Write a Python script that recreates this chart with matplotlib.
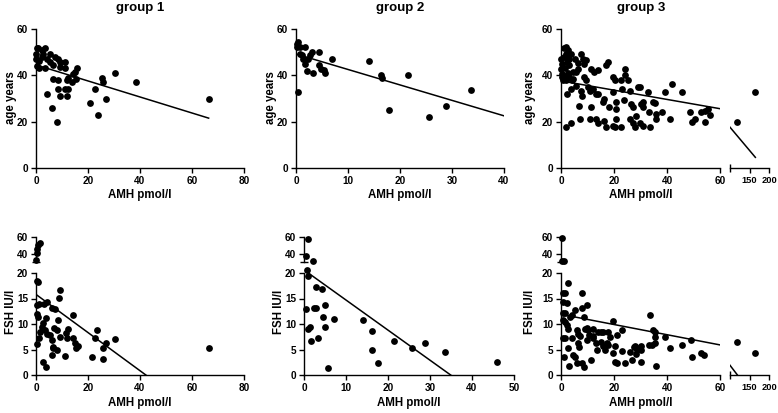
import numpy as np
import matplotlib
matplotlib.use('Agg')
import matplotlib.pyplot as plt

plt.rcParams['font.family'] = ['Liberation Sans', 'DejaVu Sans']
plt.rcParams['font.weight'] = 'bold'

# ---------------- data ----------------
titles = ["group 1", "group 2", "group 3"]
xlabel = "AMH pmol/l"
ylabel_top = "age years"
ylabel_bot = "FSH IU/l"

g1_amh = [0, 0, 0.2, 0.9, 2.2, 2.8, 3.5, 1.3, 0.3, 1.3, 3.5, 2.2, 4.1, 5.4, 5.4, 6.7, 7.3, 8.6, 9.2, 9.2,
          11.1, 11.1, 12.4, 14.3, 15.0, 15.6, 15.4, 13.7, 11.8, 11.1, 12.4, 11.8, 9.2, 8.6, 8.6, 6.7, 4.1,
          6.0, 7.9, 20.7, 22.7, 23.7, 25.2, 25.9, 27.1, 30.3, 38.4, 66.4]
g1_age = [47, 49, 51.6, 52, 51, 49, 51.6, 46, 44, 43, 43, 48, 47, 49, 45.8, 44.3, 48, 47, 45.8, 43.5,
          45.8, 43, 39, 40.7, 41.4, 43, 38.5, 37, 37.8, 34, 34, 31, 31, 34, 37.8, 38.5, 32,
          26, 20, 28, 34, 23, 39, 37, 30, 41, 37, 30]

g2_amh = [0.1, 0.4, 0.1, 0.8, 0.4, 0.8, 1.1, 1.7, 1.4, 1.7, 2.1, 2.4, 2.7, 3.0, 3.3, 4.5, 4.5, 4.9, 5.3,
          5.6, 7.0, 14.1, 16.3, 16.5, 17.8, 21.5, 25.6, 28.8, 33.7]
g2_age = [53.7, 54.5, 52.3, 52.3, 33, 49.4, 48.7, 52.3, 47.2, 45, 41.8, 47.2, 48.7, 50, 41, 50, 44.3,
          42.9, 42.1, 41, 47.2, 46, 40, 39, 25, 40, 21.8, 26.9, 33.8]

g3_amh = [0, 0, 0.3, 1, 1.9, 2.5, 1.3, 2.3, 3.2, 0.6, 1.9, 3.2, 4.4, 3.8, 5.1, 5.7, 6.3, 7.6, 8.2, 8.8,
          9.5, 8.8, 9.5, 11.4, 12.6, 13.9, 17, 17.7, 3.8, 2.3, 5.7, 7.6, 8.0, 6.7, 7, 3.8, 1.9, 11.1,
          11.4, 11.1, 13.3, 13.9, 13.3, 13.8, 15.8, 16.4, 16.2, 17, 18.3, 19.6, 19.6, 20.2, 19.6, 20.8,
          20.8, 20.8, 20.2, 22.7, 23, 23.7, 22.7, 24, 24, 25.3, 25.9, 25.9, 26.5, 27.1, 27.1, 27.8,
          28.4, 29, 29.7, 30.3, 30.9, 30.9, 30.9, 29.7, 32.8, 33.2, 33.5, 34.7, 35.4, 35.7, 36, 38.3,
          39.1, 41, 41.7, 45.7, 48.6, 49.5, 50.5, 53, 54.3, 54.3, 56.2, 55.3,
          0.5, 1.5, 2.8, 4.5, 0.2, 2, 6.5, 10, 4, 12, 1.2, 3, 118, 165]
g3_age = [47.2, 42.9, 39.2, 51.6, 52.3, 50.9, 48, 45.8, 44.3, 37.8, 37.8, 39.2, 41.4, 49.4, 47.2, 41.4,
          42.9, 49.4, 47.2, 45, 46.5, 39.2, 37.8, 42.9, 41.4, 42.1, 44.3, 45.8, 34.1, 32, 35.6, 33.4,
          31.2, 26.9, 21.1, 19.6, 17.7, 33.4, 26.2, 21.1, 32, 32, 21.1, 19.6, 28.3, 29.8, 20.3, 17.7,
          26.2, 32.7, 39.2, 37.8, 18.2, 28.3, 25.4, 21.1, 17.7, 37.8, 34.1, 29.4, 17.7, 42.9, 40,
          37.8, 33.4, 21.1, 27.6, 26.2, 19.6, 17.7, 22.5, 34.9, 34.9, 27.6, 28.3, 26.2, 18.2, 19.6,
          32.7, 24, 17.7, 28.3, 27.9, 23.2, 21.1, 24, 32.7, 21.1, 36.3, 32.7, 24, 20, 21.1, 24, 24.7,
          20, 23, 25.4,
          45, 43, 41, 38.5, 40.5, 49, 45.5, 35, 38, 34, 39.5, 47, 20, 33]

g1f_amh = [0, 0.2, 0.5, 0.8, 1.6, 0.5, 0.9, 0.3, 0.3, 0.9, 1.3, 0.5, 1.3, 1.5, 2.2, 2.6, 3.1, 4.1, 3.5,
           4.1, 3.8, 2.8, 3.8, 5.4, 6.0, 6.4, 6.0, 6.7, 6.0, 7.3, 6.9, 7.9, 8.2, 8.6, 9.1, 9.2, 9.0,
           11.1, 11.5, 11.8, 12.4, 14.1, 14.3, 15.0, 15.4, 16.0, 21.4, 22.7, 23.6, 25.6, 25.9, 27.1,
           30.3, 66.4]
g1_fsh = [32, 41, 46, 50, 53, 18.4, 18.2, 13.7, 11.9, 11.4, 14, 6.1, 7.2, 8.5, 9.4, 10.1, 14, 14.3, 8.8,
          8, 11.1, 2.6, 1.5, 7.8, 6.8, 5.2, 3.9, 5.5, 13.2, 13, 9.3, 8.8, 4.9, 10.7, 7.4, 16.7, 15.1,
          3.7, 8.3, 7.2, 9.1, 7.2, 11.7, 6.2, 5.2, 5.7, 3.6, 7.2, 8.8, 5.2, 3.1, 6.2, 7, 5.2]

g2f_amh = [1, 0.4, 2.1, 0.6, 1, 0.4, 1, 1.5, 1.7, 2.3, 2.9, 2.8, 3.3, 4.4, 4.5, 5.1, 5.1, 5.6, 7.1, 14.1,
           16.1, 16.3, 17.6, 21.5, 25.6, 28.7, 33.6, 45.9]
g2_fsh = [58, 37, 31, 20.1, 19.5, 12.9, 9, 9.5, 6.6, 13.1, 13.1, 17.3, 7.3, 16.9, 11.4, 13.8, 9.5, 1.3,
          11, 10.8, 8.7, 4.9, 2.4, 6.6, 5.3, 6.2, 4.6, 2.5]

g3f_amh = [0.2, 0.3, 1.3, 2.8, 0.9, 1.5, 0.9, 2.1, 0.6, 1.5, 0.6, 1.5, 2.1, 2.8, 0.9, 1.5, 1.3, 2.8, 3.0,
           3.4, 4.0, 4.3, 4.7, 5.3, 5.9, 5.3, 5.9, 6.3, 6.6, 6.9, 7.2, 7.8, 8.1, 8.5, 9.1, 9.7, 9.7,
           10.1, 8.1, 8.5, 9.7, 10.4, 11.4, 11.9, 11.9, 12.2, 13.1, 13.5, 14.1, 15.2, 15.2, 16.0, 16.0,
           16.7, 17.7, 17.3, 17.9, 18.6, 19.8, 20.2, 19.8, 20.5, 21.1, 21.1, 23.0, 23.0, 24.2, 26.1,
           26.8, 27.4, 28.0, 28.3, 28.7, 29.5, 30.3, 30.0, 30.3, 33.3, 33.7, 34.3, 34.8, 35.4, 35.4,
           35.4, 35.9, 39.4, 41.3, 45.7, 49.1, 49.5, 53.0, 53.9, 118, 165]
g3_fsh = [59, 31, 31, 18, 16.1, 16.1, 14.3, 14.1, 12.2, 12.2, 10.7, 10.4, 9.8, 9.1, 7.2, 7.2, 3.6, 5.2,
          1.8, 11.4, 11.7, 7.2, 3.9, 3.5, 2.3, 12.8, 8.8, 8.1, 6.2, 5.5, 7.6, 13.2, 16.1, 11.3, 9.1,
          13.7, 9.3, 8.8, 2.3, 1.6, 6.8, 7.8, 2.9, 9.1, 7.6, 7.2, 6.3, 4.9, 8.5, 8.5, 6.5, 8.5, 5.7,
          4.9, 8.5, 6.2, 5.9, 7.4, 10.6, 5.7, 4.4, 2.6, 7.8, 2.3, 8.9, 4.8, 2.3, 4.6, 2.9, 5.4, 5.7,
          4.2, 4.9, 5.2, 2.6, 4.9, 5.7, 5.9, 11.7, 5.9, 8.9, 8.5, 7.5, 6.3, 1.8, 7.5, 5.3, 5.9, 6.8,
          3.5, 4.4, 3.9, 6.5, 4.4]

# regression lines (intercept, slope, x range)
fit_top = [(44.5, -0.346, 0, 66.4), (49.2, -0.667, 0.1, 45.9), (37.6, -0.2, 0, 165)]
fit_bot = [(15.8, -0.374, 0, 66.4), (20.6, -0.59, 0.2, 45.9), (11.9, -0.1, 0, 165)]

# ---------------- layout ----------------
W, H = 778, 413
fig = plt.figure(figsize=(W / 100, H / 100), dpi=100)

LW = 1.0
MS = 24


def box(x0, x1, ytop, ybot):
    return [x0 / W, 1 - ybot / H, (x1 - x0) / W, (ybot - ytop) / H]


def style(ax, left=True, bottom=True, lsize=7.2):
    for s in ['top', 'right']:
        ax.spines[s].set_visible(False)
    ax.spines['left'].set_visible(left)
    ax.spines['bottom'].set_visible(bottom)
    for s in ['left', 'bottom']:
        ax.spines[s].set_linewidth(LW)
    ax.tick_params(which='major', width=LW, length=3.5, labelsize=lsize, pad=2, direction='out')
    ax.tick_params(which='minor', width=LW, length=6, direction='inout')
    ax.patch.set_alpha(0)
    if not left:
        ax.tick_params(axis='y', which='both', left=False, labelleft=False)
    if not bottom:
        ax.tick_params(axis='x', which='both', bottom=False, labelbottom=False)


def dots(ax, x, y):
    ax.scatter(x, y, s=MS, c='black', linewidths=0, clip_on=False, zorder=3)


def fitline(ax, fit):
    a, b, x0, x1 = fit
    xs = np.array([x0, x1])
    ax.plot(xs, a + b * xs, color='black', lw=1.1, zorder=2)


# top row geometry
top_y = (29, 168)
xs_top = [(36, 244, 80, [0, 20, 40, 60, 80]), (296, 504, 40, [0, 10, 20, 30, 40])]
top_data = [(g1_amh, g1_age), (g2_amh, g2_age)]

for i in range(2):
    x0, x1, xmax, xt = xs_top[i]
    ax = fig.add_axes(box(x0, x1, *top_y))
    style(ax)
    amh, age = top_data[i]
    dots(ax, amh, age)
    fitline(ax, fit_top[i])
    ax.set_xlim(0, xmax)
    ax.set_ylim(0, 60)
    ax.set_xticks(xt)
    ax.set_yticks([0, 20, 40, 60])

# group 3 top (broken x)
axL = fig.add_axes(box(561, 720, *top_y))
axR = fig.add_axes(box(730, 769, *top_y))
style(axL)
style(axR, left=False, lsize=6.7)
a3 = np.array(g3_amh)
y3 = np.array(g3_age)
m = a3 <= 60
dots(axL, a3[m], y3[m])
dots(axR, a3[~m], y3[~m])
fitline(axL, fit_top[2])
fitline(axR, fit_top[2])
axL.set_xlim(0, 60)
axR.set_xlim(100, 200)
for a in (axL, axR):
    a.set_ylim(0, 60)
axL.set_yticks([0, 20, 40, 60])
axL.set_xticks([0, 20, 40, 60])
axL.set_xticks([60], minor=True)
axR.set_xticks([150, 200])
axR.set_xticks([100], minor=True)

# bottom row geometry
low_y = (273, 375)
up_y = (237, 262)
xs_bot = [(36, 244, 80, [0, 20, 40, 60, 80]), (304, 514, 50, [0, 10, 20, 30, 40, 50])]
bot_data = [(g1f_amh, g1_fsh), (g2f_amh, g2_fsh)]


def make_broken_y(x0, x1, xmax, xt):
    lo = fig.add_axes(box(x0, x1, *low_y))
    up = fig.add_axes(box(x0, x1, *up_y))
    style(lo)
    style(up, bottom=False)
    lo.set_ylim(0, 20)
    up.set_ylim(30, 60)
    lo.set_yticks([0, 5, 10, 15, 20])
    lo.set_yticks([20], minor=True)
    up.set_yticks([40, 60])
    up.set_yticks([30], minor=True)
    lo.set_xlim(0, xmax)
    up.set_xlim(0, xmax)
    lo.set_xticks(xt)
    return lo, up


for i in range(2):
    x0, x1, xmax, xt = xs_bot[i]
    lo, up = make_broken_y(x0, x1, xmax, xt)
    amh = np.array(bot_data[i][0])
    fsh = np.array(bot_data[i][1])
    m = fsh <= 20
    dots(lo, amh[m], fsh[m])
    dots(up, amh[~m], fsh[~m])
    fitline(lo, fit_bot[i])

# group 3 bottom (broken x and y)
lo, up = make_broken_y(561, 720, 60, [0, 20, 40, 60])
lo.set_xticks([60], minor=True)
loR = fig.add_axes(box(730, 769, *low_y))
style(loR, left=False, lsize=6.7)
loR.set_xlim(100, 200)
loR.set_ylim(0, 20)
loR.set_xticks([150, 200])
loR.set_xticks([100], minor=True)
a3 = np.array(g3f_amh)
f3 = np.array(g3_fsh)
mx = a3 <= 60
my = f3 <= 20
dots(lo, a3[mx & my], f3[mx & my])
dots(up, a3[mx & ~my], f3[mx & ~my])
dots(loR, a3[~mx], f3[~mx])
fitline(lo, fit_bot[2])
fitline(loR, fit_bot[2])

# ---------------- text ----------------
centers_top = [140, 400, 641]
for c, t in zip(centers_top, titles):
    fig.text(c / W, 1 - 8 / H, t, ha='center', va='center', fontsize=9.5, fontweight='bold')
for c in centers_top:
    fig.text(c / W, 1 - 195 / H, xlabel, ha='center', va='center', fontsize=8.3, fontweight='bold')
centers_bot = [140, 409, 641]
for c in centers_bot:
    fig.text(c / W, 1 - 403 / H, xlabel, ha='center', va='center', fontsize=8.3, fontweight='bold')
for xp in (11, 271, 530):
    fig.text(xp / W, 1 - 98 / H, ylabel_top, ha='center', va='center', rotation=90,
             fontsize=8.3, fontweight='bold')
for xp in (11, 279, 530):
    fig.text(xp / W, 1 - 312 / H, ylabel_bot, ha='center', va='center', rotation=90,
             fontsize=8.3, fontweight='bold')

fig.savefig('out.png', dpi=100, facecolor='white')
